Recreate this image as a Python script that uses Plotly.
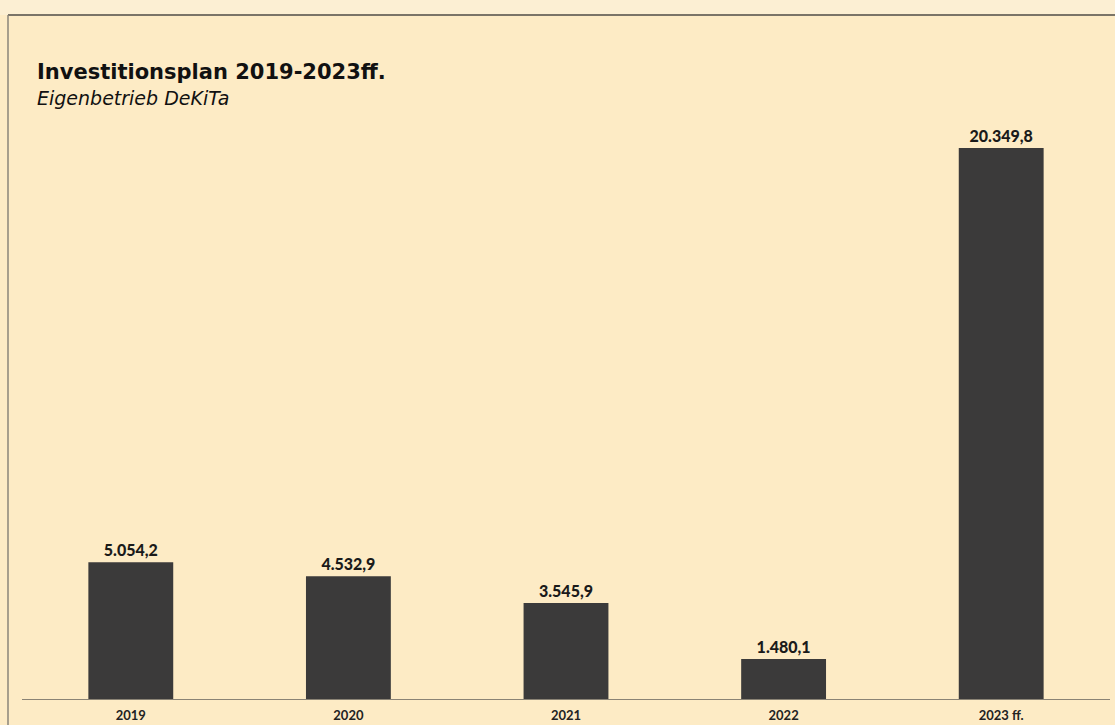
import plotly.graph_objects as go

categories = ["2019", "2020", "2021", "2022", "2023 ff."]
values = [5054.2, 4532.9, 3545.9, 1480.1, 20349.8]
labels = ["5.054,2", "4.532,9", "3.545,9", "1.480,1", "20.349,8"]
title = "Investitionsplan 2019-2023ff."
subtitle = "Eigenbetrieb DeKiTa"

BG = "#fdebc5"
BAR = "#3b3a3a"

fig = go.Figure(go.Bar(
    x=categories, y=values, text=labels, textposition="outside",
    textfont=dict(family="Lato", size=16, color="#1a1a1a", weight=900),
    marker=dict(color=BAR, line=dict(width=0)),
    width=0.39, cliponaxis=False,
))

fig.update_layout(
    width=1115, height=725,
    paper_bgcolor=BG, plot_bgcolor=BG,
    margin=dict(l=22, r=5, t=100, b=26),
    showlegend=False,
    xaxis=dict(showgrid=False, showline=True, linecolor="#8a8375", linewidth=1,
               ticks="outside", ticklen=4, tickcolor="rgba(0,0,0,0)", automargin=False,
               tickfont=dict(family="Lato", size=13, color="#222", weight="bold"),
               fixedrange=True),
    yaxis=dict(range=[0, 22122], visible=False, showgrid=False, zeroline=False, automargin=False),
    annotations=[
        dict(text=(f"<span style='font-size:21px;font-weight:bold'>{title}</span><br>"
                   f"<i><span style='font-size:19px'>{subtitle}</span></i>"),
             xref="paper", yref="paper", align="left",
             x=0, y=1, xshift=13, yshift=-11, xanchor="left", yanchor="bottom", showarrow=False,
             font=dict(family="DejaVu Sans", size=20, color="#111")),
    ],
    shapes=[
        dict(type="rect", xref="paper", yref="paper", x0=-0.03, x1=1.01, y0=1.1419, y1=1.2,
             fillcolor="#fcefd3", line=dict(width=0), layer="below"),
        dict(type="line", xref="paper", yref="paper", x0=-0.01287, x1=1.01, y0=1.1419, y1=1.1419,
             line=dict(color="#7a7468", width=2)),
        dict(type="line", xref="paper", yref="paper", x0=-0.01287, x1=-0.01287, y0=-0.05, y1=1.1419,
             line=dict(color="#8a857a", width=1.5)),
    ],
)

fig.write_html("out.html", config={"displayModeBar": False},
               post_script="document.body.style.margin='0';document.body.style.background='#fdebc5';")
